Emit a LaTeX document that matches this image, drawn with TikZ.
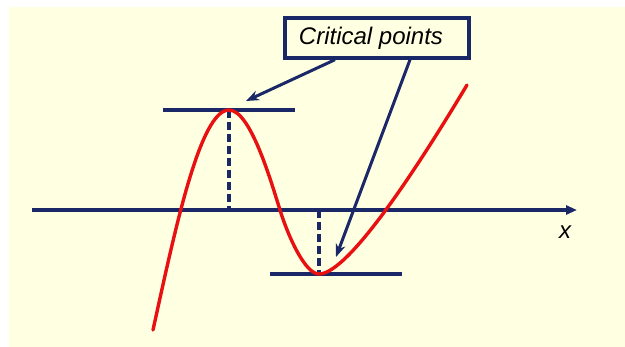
\documentclass[tikz,border=0pt]{standalone}
\usepackage{fontspec}
\setmainfont{Liberation Sans}
\usetikzlibrary{arrows.meta}
\definecolor{navy}{RGB}{26,40,104}
\definecolor{cream}{RGB}{255,255,226}
\definecolor{curvered}{RGB}{232,16,16}
\tikzset{
  axisline/.style={navy, line width=3.6pt},
  tangent/.style={navy, line width=4pt},
  dropline/.style={navy, line width=3.2pt, dash pattern=on 8pt off 4pt},
  pointer/.style={navy, line width=3pt, -{Stealth[length=13pt,width=10pt]}},
  fcurve/.style={curvered, line width=3.4pt},
  labelbox/.style={draw=navy, line width=3.4pt, fill=cream, minimum width=184pt, minimum height=40pt, inner sep=0pt, font=\fontsize{24}{28}\selectfont\itshape}
}
\begin{document}
\begin{tikzpicture}[x=1pt,y=-1pt]
\useasboundingbox (0,0) rectangle (625,347);
\fill[white] (0,0) rectangle (625,347);
\fill[cream] (9,7) rectangle (625,347);
% axis
\coordinate (xl) at (32,210);
\coordinate (xr) at (577,210);
\draw[axisline, -{Triangle[length=11pt,width=9pt]}] (xl) -- (xr);
\node[font=\fontsize{24}{28}\selectfont\itshape] (xlab) at (565,232) {x};
% critical points
\coordinate (mx) at (229,110);
\coordinate (mn) at (319,274);
\coordinate (mxfoot) at (229,210);
\coordinate (mnfoot) at (319,210);
\coordinate (t1l) at (163,110);
\coordinate (t1r) at (295,110);
\coordinate (t2l) at (270,274);
\coordinate (t2r) at (402,274);
\draw[dropline] (mx) -- (mxfoot);
\draw[dropline] (mnfoot) -- (mn);
\draw[tangent] (t1l) -- (t1r);
\draw[tangent] (t2l) -- (t2r);
% curve
\coordinate (c0) at (153,330);
\coordinate (cb) at (280,210);
\coordinate (ce) at (467,85);
\draw[fcurve, line cap=round] (c0) .. controls (175,230) and (200,110) .. (mx)
  .. controls (250,110) and (270,178) .. (cb)
  .. controls (288,236) and (305,274) .. (mn)
  .. controls (350,274) and (425,155) .. (ce);
% label box and pointers
\node[labelbox] (box) at (377,38) {\hspace*{-12pt}Critical points};
\coordinate (p1) at (246,101);
\coordinate (p2) at (336,257);
\draw[pointer] ([xshift=-42pt]box.south) -- (p1);
\draw[pointer] ([xshift=33pt]box.south) -- (p2);
\end{tikzpicture}
\end{document}
